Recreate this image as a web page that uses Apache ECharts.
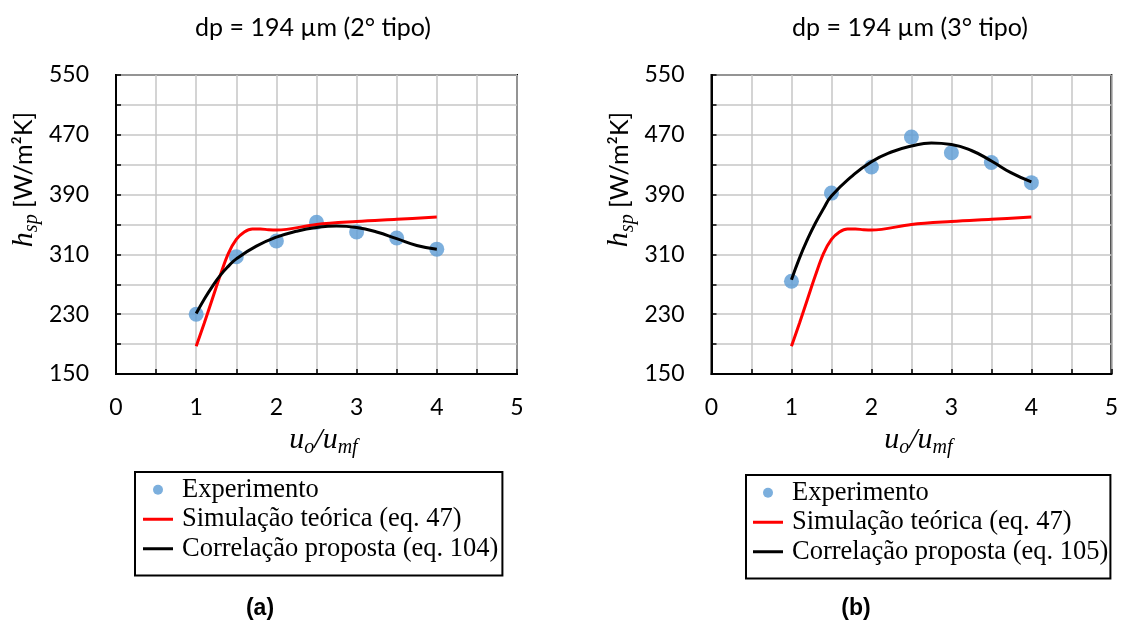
<!DOCTYPE html>
<html>
<head>
<meta charset="utf-8">
<script src="https://cdn.jsdelivr.net/npm/echarts@6/dist/echarts.min.js"></script>
<style>
  html, body { margin: 0; padding: 0; background: #ffffff; }
  #chart { width: 1121px; height: 624px; }
</style>
</head>
<body>
<div id="chart"></div>
<script>
// Axis ticks and labels
const xGridTicks = [0, 0.5, 1, 1.5, 2, 2.5, 3, 3.5, 4, 4.5, 5];
const xLabelTicks = [0, 1, 2, 3, 4, 5];
const yGridTicks = [150, 190, 230, 270, 310, 350, 390, 430, 470, 510, 550];
const yLabelTicks = [150, 230, 310, 390, 470, 550];

// Experimental points (u0/umf, h_sp)
const expX = [1, 1.5, 2, 2.5, 3, 3.5, 4];
const expA = [230, 307, 328, 353, 340, 332, 317];
const expB = [274, 392, 427, 467, 446, 433, 406];

// Theoretical simulation (eq. 47), same for both panels
const simX = [1, 1.1, 1.2, 1.3, 1.4, 1.5, 1.6, 1.7, 1.8, 1.9, 2, 2.5, 3, 3.5, 4];
const simH = [187, 218, 250, 282, 311, 330, 340, 344, 344, 343, 342.5, 350, 354, 357, 360];

// Proposed correlations (eq. 104 and eq. 105)
const corX = [1, 1.1, 1.2, 1.3, 1.4, 1.5, 1.75, 2, 2.25, 2.5, 2.75, 3, 3.25, 3.5, 3.75, 4];
const corA = [231, 250, 267, 282, 294, 304, 321, 333, 341, 346, 348, 346, 340, 331, 322, 317];
const corB = [276, 305, 330, 352, 371, 388, 414, 434, 447, 455, 459, 457, 449, 435, 419, 407];

const panelTitles = ['dp = 194 \u00b5m (2\u00b0 tipo)', 'dp = 194 \u00b5m (3\u00b0 tipo)'];
const panelTags = ['(a)', '(b)'];
const nameExp = 'Experimento';
const nameSim = 'Simula\u00e7\u00e3o te\u00f3rica (eq. 47)';
const nameCor = ['Correla\u00e7\u00e3o proposta (eq. 104)', 'Correla\u00e7\u00e3o proposta (eq. 105)'];

const zip = (xs, ys) => xs.map((x, i) => [x, ys[i]]);

const gridPos = [
  { left: 116, top: 75, width: 401, height: 299 },
  { left: 711.5, top: 75, width: 401, height: 299 }
];
const titleCenters = [313, 910];
const tagCenters = [260, 856];
const legendPos = [
  { left: 135, top: 472, padding: [3, 4, 12, 8] },
  { left: 746, top: 475, padding: [3, 2, 12, 7] }
];

const mathFont = 'Liberation Serif';
const labelFont = 'Lato';
// thin horizontal bar used as the legend swatch of the line series
const lineIcon = 'path://M0,0 L30,0 L30,3 L0,3 Z';

function xAxisFor(i) {
  return {
    gridIndex: i, type: 'value', min: 0, max: 5, interval: 0.5,
    axisLine: { show: true, lineStyle: { color: '#000', width: 2 } },
    axisTick: { show: true, inside: true, length: 5, lineStyle: { color: '#000', width: 1.5 } },
    splitLine: { show: true, lineStyle: { color: '#c6c6c6', width: 1.5 } },
    axisLabel: {
      margin: 22, color: '#000', fontFamily: labelFont, fontSize: 23,
      formatter: v => (xLabelTicks.indexOf(v) >= 0 ? String(v) : '')
    },
    name: '{i|u}{s|o}{i|/u}{s|mf}',
    nameLocation: 'middle', nameGap: 48,
    nameTextStyle: {
      padding: [0, 0, 0, 14],
      rich: {
        i: { fontFamily: mathFont, fontStyle: 'italic', fontSize: 30, color: '#000' },
        s: { fontFamily: mathFont, fontStyle: 'italic', fontSize: 20, color: '#000', padding: [16, 0, 0, 0] }
      }
    }
  };
}

function yAxisFor(i) {
  return {
    gridIndex: i, type: 'value', min: 150, max: 550,
    axisLine: { show: true, lineStyle: { color: '#000', width: 2 } },
    axisTick: { show: true, inside: true, length: 5, customValues: yGridTicks, lineStyle: { color: '#000', width: 1.5 } },
    splitLine: { show: true, lineStyle: { color: '#c6c6c6', width: 1.5 } },
    axisLabel: {
      margin: 27, color: '#000', fontFamily: labelFont, fontSize: 23,
      customValues: yLabelTicks
    },
    name: '{h|h}{s|sp}{u| [W/m\u00b2K]}',
    nameLocation: 'middle', nameGap: 74,
    nameTextStyle: {
      padding: [0, 0, 0, 90],
      rich: {
        h: { fontFamily: mathFont, fontStyle: 'italic', fontSize: 30, color: '#000' },
        s: { fontFamily: mathFont, fontStyle: 'italic', fontSize: 20, color: '#000', padding: [16, 0, 0, 0] },
        u: { fontFamily: labelFont, fontSize: 25, color: '#000' }
      }
    }
  };
}

function seriesFor(i, expY, corY) {
  return [
    {
      name: nameExp, type: 'scatter', xAxisIndex: i, yAxisIndex: i,
      data: zip(expX, expY), symbol: 'circle', symbolSize: 15,
      itemStyle: { color: '#5b9bd5' }, z: 2
    },
    {
      name: nameSim, type: 'line', xAxisIndex: i, yAxisIndex: i,
      data: zip(simX, simH), smooth: 0.35, showSymbol: false, symbol: 'none',
      lineStyle: { color: '#ff0000', width: 3 }, itemStyle: { color: '#ff0000' }, z: 3
    },
    {
      name: nameCor[i], type: 'line', xAxisIndex: i, yAxisIndex: i,
      data: zip(corX, corY), smooth: 0.5, showSymbol: false, symbol: 'none',
      lineStyle: { color: '#000000', width: 3 }, itemStyle: { color: '#000000' }, z: 4
    }
  ];
}

function legendFor(i) {
  return {
    left: legendPos[i].left, top: legendPos[i].top,
    orient: 'vertical', itemGap: 0, itemWidth: 30, itemHeight: 10,
    padding: legendPos[i].padding,
    borderColor: '#000', borderWidth: 2, backgroundColor: '#fff',
    selectedMode: false,
    symbolKeepAspect: true,
    textStyle: {
      fontFamily: mathFont, fontSize: 26.5, color: '#000', lineHeight: 29.5,
      padding: [0, 0, 0, 4]
    },
    data: [
      { name: nameExp, icon: 'circle', itemStyle: { color: '#5b9bd5' } },
      { name: nameSim, icon: lineIcon, itemStyle: { color: '#ff0000', borderWidth: 0 } },
      { name: nameCor[i], icon: lineIcon, itemStyle: { color: '#000000', borderWidth: 0 } }
    ]
  };
}

const chart = echarts.init(document.getElementById('chart'), null, { renderer: 'canvas' });
chart.setOption({
  backgroundColor: '#ffffff',
  animation: false,
  title: [0, 1].map(i => ({
    text: panelTitles[i], left: titleCenters[i], top: 15, textAlign: 'center', padding: 0,
    textStyle: { fontFamily: labelFont, fontSize: 25, fontWeight: 'normal', color: '#000' }
  })).concat([0, 1].map(i => ({
    text: panelTags[i], left: tagCenters[i], top: 597, textAlign: 'center', padding: 0,
    textStyle: { fontFamily: 'Liberation Sans', fontSize: 23, fontWeight: 'bold', color: '#000' }
  }))),
  grid: gridPos.map(g => Object.assign({ show: true, borderColor: '#000', borderWidth: 2, backgroundColor: 'transparent' }, g)),
  xAxis: [xAxisFor(0), xAxisFor(1)],
  yAxis: [yAxisFor(0), yAxisFor(1)],
  legend: [legendFor(0), legendFor(1)],
  series: seriesFor(0, expA, corA).concat(seriesFor(1, expB, corB))
});
</script>
</body>
</html>
